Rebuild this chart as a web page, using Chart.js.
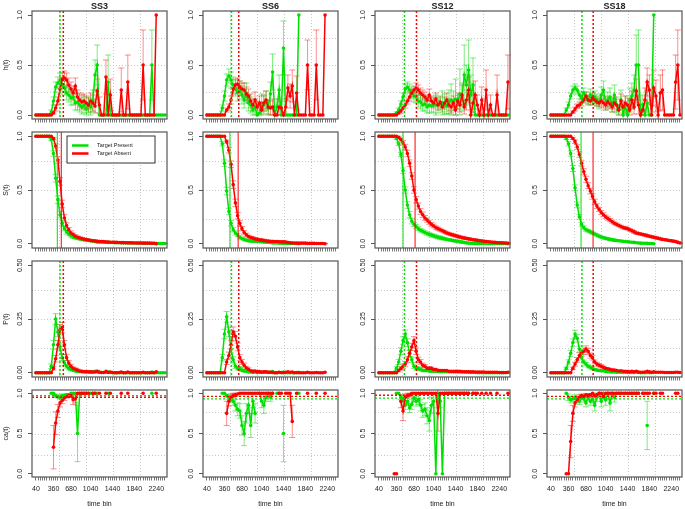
<!DOCTYPE html>
<html>
<head>
<meta charset="utf-8">
<script src="https://cdn.jsdelivr.net/npm/chart.js@4.4.0/dist/chart.umd.min.js"></script>
<style>
  body { margin: 0; background: #fff; }
  #wrap { position: relative; width: 685px; height: 509px; overflow: hidden; }
  #wrap canvas { position: absolute; }
</style>
</head>
<body>
<div id="wrap"></div>
<script>
// time bins (ms) and the labels R managed to print under them
const TIME = [
  40, 80, 120, 160, 200, 240, 280, 320, 360, 400,
  440, 480, 520, 560, 600, 640, 680, 720, 760, 800,
  840, 880, 920, 960, 1000, 1040, 1080, 1120, 1160, 1200,
  1240, 1280, 1320, 1360, 1400, 1440, 1480, 1520, 1560, 1600,
  1640, 1680, 1720, 1760, 1800, 1840, 1880, 1920, 1960, 2000,
  2040, 2080, 2120, 2160, 2200, 2240, 2280, 2320, 2360, 2400
];
const X_LABELS = [40, 360, 680, 1040, 1440, 1840, 2240];
const SET_SIZES = ['SS3', 'SS6', 'SS12', 'SS18'];
const ROW_LABELS = ['h(t)', 'S(t)', 'P(t)', 'ca(t)'];
const Y_TICKS = [[0, 0.5, 1], [0, 0.5, 1], [0, 0.25, 0.5], [0, 0.5, 1]];
const Y_TICK_TEXT = [['0.0', '0.5', '1.0'], ['0.0', '0.5', '1.0'], ['0.00', '0.25', '0.50'], ['0.0', '0.5', '1.0']];

// reference lines per set size
const DOT_TP = [479, 487, 506, 606];
const DOT_TA = [540, 621, 726, 812];
const SOLID_TP = [430, 460, 480, 590];
const SOLID_TA = [503, 610, 700, 810];
const CA_REF_TP = [0.97, 0.93, 0.94, 0.93];
const CA_REF_TA = [0.95, 0.96, 0.975, 0.96];

// ---------- SS3 ----------
const H_TP_SS3 = [
  0, 0, 0, 0, 0, 0, 0, 0.03, 0.14, 0.28,
  0.32, 0.35, 0.3, 0.27, 0.22, 0.2, 0.17, 0.18, 0.12, 0.13,
  0.1, 0.08, 0.1, 0.06, 0.1, 0.08, 0.14, 0.4, 0.5, 0,
  0, 0, 0, 0.33, 0, 0, 0, 0, 0, 0,
  0, 0, 0, 0, 0, 0, 0, 0, 0, 0,
  0, 0, 0, 0.5, 0, 0, 0, 0, 0, 0
];
const H_TP_ERR_SS3 = [
  0, 0, 0, 0, 0, 0, 0, 0.02, 0.04, 0.05,
  0.06, 0.07, 0.07, 0.07, 0.07, 0.07, 0.07, 0.08, 0.07, 0.08,
  0.07, 0.07, 0.08, 0.06, 0.08, 0.08, 0.11, 0.15, 0.2, 0,
  0, 0, 0, 0.27, 0, 0, 0, 0, 0, 0,
  0, 0, 0, 0, 0, 0, 0, 0, 0, 0,
  0, 0, 0, 0.35, 0, 0, 0, 0, 0, 0
];
const H_TA_SS3 = [
  0, 0, 0, 0, 0, 0, 0, 0, 0.02, 0.07,
  0.14, 0.26, 0.36, 0.37, 0.35, 0.3, 0.26, 0.22, 0.29, 0.18,
  0.15, 0.13, 0.14, 0.12, 0.1, 0.14, 0.12, 0.09, 0.24, 0.1,
  0, 0, 0.38, 0, 0.2, 0, 0, 0, 0, 0.25,
  0, 0, 0.33, 0, 0, 0, 0, 0, 0, 0.5,
  0, 0, 0, 0, 0, 1, null, null, null, null
];
const H_TA_ERR_SS3 = [
  0, 0, 0, 0, 0, 0, 0, 0, 0.01, 0.03,
  0.04, 0.05, 0.06, 0.07, 0.07, 0.07, 0.07, 0.07, 0.08, 0.07,
  0.07, 0.07, 0.07, 0.07, 0.07, 0.08, 0.08, 0.07, 0.12, 0.08,
  0, 0, 0.17, 0, 0.16, 0, 0, 0, 0, 0.22,
  0, 0, 0.27, 0, 0, 0, 0, 0, 0, 0.35,
  0, 0, 0, 0, 0, 0, 0, 0, 0, 0
];
const S_TP_SS3 = [
  1, 1, 1, 1, 1, 1, 1, 0.97, 0.84, 0.61,
  0.41, 0.27, 0.19, 0.14, 0.11, 0.09, 0.075, 0.064, 0.056, 0.05,
  0.045, 0.041, 0.037, 0.034, 0.031, 0.029, 0.026, 0.022, 0.017, 0.016,
  0.015, 0.014, 0.013, 0.012, 0.011, 0.011, 0.01, 0.01, 0.009, 0.009,
  0.008, 0.008, 0.007, 0.007, 0.006, 0.006, 0.006, 0.005, 0.005, 0.005,
  0.004, 0.004, 0.004, 0.003, 0.003, 0.003, 0.002, 0.002, 0.002, 0.002
];
const S_TP_ERR_SS3 = [
  0, 0, 0, 0, 0, 0, 0, 0.01, 0.025, 0.035,
  0.035, 0.03, 0.025, 0.02, 0.02, 0.015, 0.015, 0.015, 0.012, 0.012,
  0.01, 0.01, 0.01, 0.01, 0.01, 0.01, 0.01, 0.01, 0.01, 0.01,
  0.005, 0.005, 0.005, 0.005, 0.005, 0.005, 0.005, 0.005, 0.005, 0.005,
  0.005, 0.005, 0.005, 0.005, 0.005, 0.005, 0.005, 0.005, 0.005, 0.005,
  0.004, 0.004, 0.004, 0.003, 0.003, 0.003, 0.002, 0.002, 0.002, 0.002
];
const S_TA_SS3 = [
  1, 1, 1, 1, 1, 1, 1, 1, 0.98, 0.91,
  0.78, 0.58, 0.37, 0.24, 0.17, 0.13, 0.1, 0.085, 0.07, 0.06,
  0.053, 0.047, 0.042, 0.038, 0.034, 0.03, 0.027, 0.025, 0.022, 0.02,
  0.02, 0.019, 0.016, 0.015, 0.013, 0.013, 0.012, 0.012, 0.011, 0.01,
  0.01, 0.009, 0.008, 0.008, 0.008, 0.007, 0.007, 0.007, 0.006, 0.005,
  0.005, 0.005, 0.005, 0.004, 0.004, 0, null, null, null, null
];
const S_TA_ERR_SS3 = [
  0, 0, 0, 0, 0, 0, 0, 0, 0.01, 0.02,
  0.03, 0.035, 0.035, 0.03, 0.025, 0.02, 0.02, 0.015, 0.015, 0.012,
  0.012, 0.01, 0.01, 0.01, 0.01, 0.01, 0.01, 0.01, 0.01, 0.01,
  0.008, 0.008, 0.008, 0.008, 0.008, 0.008, 0.008, 0.008, 0.008, 0.008,
  0.005, 0.005, 0.005, 0.005, 0.005, 0.005, 0.005, 0.005, 0.005, 0.005,
  0.004, 0.004, 0.004, 0.003, 0.003, 0, 0, 0, 0, 0
];
const P_TP_SS3 = [
  0, 0, 0, 0, 0, 0, 0, 0.03, 0.13, 0.25,
  0.19, 0.12, 0.07, 0.045, 0.03, 0.02, 0.015, 0.012, 0.008, 0.006,
  0.005, 0.004, 0.004, 0.003, 0.003, 0.002, 0.003, 0.007, 0.008, 0.002,
  0.001, 0.001, 0.001, 0.004, 0.001, 0, 0, 0, 0, 0,
  0, 0, 0, 0, 0, 0, 0, 0, 0, 0,
  0, 0, 0, 0.003, 0, 0, 0, 0, 0, 0
];
const P_TP_ERR_SS3 = [
  0, 0, 0, 0, 0, 0, 0, 0.01, 0.02, 0.025,
  0.022, 0.018, 0.014, 0.011, 0.009, 0.007, 0.006, 0.005, 0.004, 0.004,
  0.003, 0.003, 0.003, 0.003, 0.003, 0.003, 0.003, 0.003, 0.003, 0.003,
  0, 0, 0, 0, 0, 0, 0, 0, 0, 0,
  0, 0, 0, 0, 0, 0, 0, 0, 0, 0,
  0, 0, 0, 0, 0, 0, 0, 0, 0, 0
];
const P_TA_SS3 = [
  0, 0, 0, 0, 0, 0, 0, 0, 0.02, 0.065,
  0.13, 0.2, 0.21, 0.13, 0.07, 0.045, 0.03, 0.02, 0.016, 0.012,
  0.008, 0.006, 0.005, 0.005, 0.004, 0.004, 0.003, 0.003, 0.005, 0.002,
  0.001, 0.001, 0.006, 0.001, 0.003, 0.001, 0, 0, 0.001, 0.003,
  0, 0, 0.003, 0, 0, 0, 0, 0, 0, 0.002,
  0, 0, 0, 0, 0, 0.004, null, null, null, null
];
const P_TA_ERR_SS3 = [
  0, 0, 0, 0, 0, 0, 0, 0, 0.008, 0.015,
  0.02, 0.024, 0.024, 0.02, 0.014, 0.011, 0.009, 0.007, 0.006, 0.005,
  0.004, 0.004, 0.004, 0.004, 0.004, 0.004, 0.004, 0.004, 0.004, 0.004,
  0, 0, 0, 0, 0, 0, 0, 0, 0, 0,
  0, 0, 0, 0, 0, 0, 0, 0, 0, 0,
  0, 0, 0, 0, 0, 0, 0, 0, 0, 0
];
const CA_TP_SS3 = [
  null, null, null, null, null, null, null, 1, 1, 0.97,
  0.96, 0.95, 0.97, 0.97, 0.98, 0.98, 1, 1, 1, 0.5,
  1, 1, 1, 1, 1, 1, 1, 1, 1, null,
  null, null, null, 1, null, null, null, null, null, null,
  null, null, null, null, null, null, null, null, null, null,
  null, null, null, 1, null, null, null, null, null, null
];
const CA_TP_ERR_SS3 = [
  0, 0, 0, 0, 0, 0, 0, 0, 0, 0.02,
  0.02, 0.02, 0.02, 0.015, 0.015, 0.015, 0, 0, 0, 0.35,
  0, 0, 0, 0, 0, 0, 0, 0, 0, 0,
  0, 0, 0, 0, 0, 0, 0, 0, 0, 0,
  0, 0, 0, 0, 0, 0, 0, 0, 0, 0,
  0, 0, 0, 0, 0, 0, 0, 0, 0, 0
];
const CA_TA_SS3 = [
  null, null, null, null, null, null, null, null, 0.33, 0.63,
  0.78, 0.88, 0.91, 0.94, 0.96, 0.97, 0.97, 0.92, 0.93, 1,
  1, 1, 1, 1, 1, null, 1, 1, null, 1,
  null, null, 1, null, 1, null, null, null, null, 1,
  null, null, 1, null, null, null, null, null, null, 1,
  null, null, null, null, null, 1, null, null, null, null
];
const CA_TA_ERR_SS3 = [
  0, 0, 0, 0, 0, 0, 0, 0, 0.27, 0.14,
  0.08, 0.05, 0.04, 0.03, 0.02, 0.02, 0.02, 0.06, 0.05, 0,
  0, 0, 0, 0, 0, 0, 0, 0, 0, 0,
  0, 0, 0, 0, 0, 0, 0, 0, 0, 0,
  0, 0, 0, 0, 0, 0, 0, 0, 0, 0,
  0, 0, 0, 0, 0, 0, 0, 0, 0, 0
];

// ---------- SS6 ----------
const H_TP_SS6 = [
  0, 0, 0, 0, 0, 0, 0, 0.07, 0.19, 0.35,
  0.39, 0.35, 0.3, 0.27, 0.22, 0.25, 0.2, 0.15, 0.22, 0.12,
  0.1, 0.05, 0.08, 0, 0.02, 0.12, 0.1, 0.14, 0.07, 0.21,
  0.43, 0, 0.08, 0.25, 0, 0.67, 0, 0, 0, 0,
  0, 0, 1, null, null, null, null, null, null, null,
  null, null, null, null, null, null, null, null, null, null
];
const H_TP_ERR_SS6 = [
  0, 0, 0, 0, 0, 0, 0, 0.03, 0.05, 0.06,
  0.07, 0.08, 0.08, 0.08, 0.08, 0.09, 0.09, 0.08, 0.1, 0.08,
  0.08, 0.06, 0.08, 0, 0.04, 0.09, 0.09, 0.1, 0.08, 0.12,
  0.18, 0, 0.08, 0.15, 0, 0.27, 0, 0, 0, 0,
  0, 0, 0, 0, 0, 0, 0, 0, 0, 0,
  0, 0, 0, 0, 0, 0, 0, 0, 0, 0
];
const H_TA_SS6 = [
  0, 0, 0, 0, 0, 0, 0, 0, 0, 0.05,
  0.08, 0.15, 0.26, 0.3, 0.31, 0.28, 0.26, 0.25, 0.21, 0.19,
  0.14, 0.1, 0.15, 0.08, 0.12, 0.05, 0.12, 0.15, 0.08, 0.07,
  0.08, 0, 0, 0.08, 0.07, 0, 0.08, 0.27, 0.19, 0.29,
  0, 0.22, 0, 0, 0, 0, 0.5, 0, 0, 0,
  0.5, 0, 0, 0, 1, null, null, null, null, null
];
const H_TA_ERR_SS6 = [
  0, 0, 0, 0, 0, 0, 0, 0, 0, 0.02,
  0.03, 0.04, 0.05, 0.06, 0.06, 0.06, 0.06, 0.07, 0.07, 0.07,
  0.07, 0.06, 0.08, 0.06, 0.07, 0.05, 0.08, 0.09, 0.07, 0.07,
  0.08, 0, 0, 0.08, 0.07, 0, 0.08, 0.13, 0.12, 0.16,
  0, 0.17, 0, 0, 0, 0, 0.25, 0, 0, 0,
  0.35, 0, 0, 0, 0, 0, 0, 0, 0, 0
];
const S_TP_SS6 = [
  1, 1, 1, 1, 1, 1, 1, 0.93, 0.75, 0.49,
  0.3, 0.19, 0.13, 0.1, 0.08, 0.06, 0.048, 0.04, 0.032, 0.028,
  0.025, 0.024, 0.022, 0.022, 0.021, 0.019, 0.017, 0.015, 0.014, 0.011,
  0.006, 0.006, 0.006, 0.005, 0.005, 0.002, 0.002, 0.002, 0.002, 0.002,
  0.002, 0.002, 0, null, null, null, null, null, null, null,
  null, null, null, null, null, null, null, null, null, null
];
const S_TP_ERR_SS6 = [
  0, 0, 0, 0, 0, 0, 0, 0.02, 0.03, 0.035,
  0.03, 0.025, 0.02, 0.02, 0.015, 0.015, 0.012, 0.012, 0.01, 0.01,
  0.01, 0.01, 0.01, 0.01, 0.01, 0.01, 0.01, 0.01, 0.01, 0.01,
  0.005, 0.005, 0.005, 0.005, 0.005, 0.005, 0.005, 0.005, 0.005, 0.005,
  0.005, 0.005, 0.005, 0, 0, 0, 0, 0, 0, 0,
  0, 0, 0, 0, 0, 0, 0, 0, 0, 0
];
const S_TA_SS6 = [
  1, 1, 1, 1, 1, 1, 1, 1, 1, 0.95,
  0.87, 0.74, 0.55, 0.38, 0.26, 0.19, 0.14, 0.105, 0.083, 0.067,
  0.058, 0.052, 0.044, 0.04, 0.035, 0.033, 0.029, 0.025, 0.023, 0.021,
  0.02, 0.02, 0.02, 0.018, 0.017, 0.017, 0.015, 0.011, 0.009, 0.006,
  0.006, 0.005, 0.005, 0.005, 0.005, 0.005, 0.003, 0.003, 0.003, 0.003,
  0.002, 0.002, 0.002, 0.002, 0, null, null, null, null, null
];
const S_TA_ERR_SS6 = [
  0, 0, 0, 0, 0, 0, 0, 0, 0, 0.015,
  0.025, 0.03, 0.035, 0.035, 0.03, 0.025, 0.02, 0.017, 0.015, 0.013,
  0.012, 0.012, 0.012, 0.012, 0.012, 0.012, 0.012, 0.012, 0.012, 0.012,
  0.008, 0.008, 0.008, 0.008, 0.008, 0.008, 0.008, 0.008, 0.008, 0.008,
  0.005, 0.005, 0.005, 0.005, 0.005, 0.005, 0.005, 0.005, 0.005, 0.005,
  0.003, 0.003, 0.003, 0.003, 0.003, 0, 0, 0, 0, 0
];
const P_TP_SS6 = [
  0, 0, 0, 0, 0, 0, 0, 0.07, 0.18, 0.26,
  0.19, 0.11, 0.06, 0.03, 0.02, 0.02, 0.012, 0.008, 0.008, 0.004,
  0.003, 0.001, 0.002, 0, 0.001, 0.002, 0.002, 0.002, 0.001, 0.003,
  0.005, 0, 0, 0.001, 0, 0.003, 0, 0, 0, 0,
  0, 0, 0.002, null, null, null, null, null, null, null,
  null, null, null, null, null, null, null, null, null, null
];
const P_TP_ERR_SS6 = [
  0, 0, 0, 0, 0, 0, 0, 0.015, 0.022, 0.025,
  0.022, 0.018, 0.014, 0.01, 0.008, 0.008, 0.006, 0.005, 0.005, 0.004,
  0.003, 0.003, 0.003, 0.003, 0.003, 0.003, 0.003, 0.003, 0.003, 0.003,
  0, 0, 0, 0, 0, 0, 0, 0, 0, 0,
  0, 0, 0, 0, 0, 0, 0, 0, 0, 0,
  0, 0, 0, 0, 0, 0, 0, 0, 0, 0
];
const P_TA_SS6 = [
  0, 0, 0, 0, 0, 0, 0, 0, 0, 0.05,
  0.08, 0.13, 0.19, 0.17, 0.12, 0.07, 0.05, 0.035, 0.022, 0.016,
  0.009, 0.006, 0.008, 0.004, 0.005, 0.002, 0.004, 0.004, 0.002, 0.002,
  0.001, 0, 0, 0.002, 0.001, 0, 0.002, 0.004, 0.002, 0.003,
  0, 0.001, 0, 0, 0, 0, 0.002, 0, 0, 0,
  0.001, 0, 0, 0, 0.002, null, null, null, null, null
];
const P_TA_ERR_SS6 = [
  0, 0, 0, 0, 0, 0, 0, 0, 0, 0.012,
  0.016, 0.02, 0.023, 0.022, 0.018, 0.014, 0.012, 0.01, 0.008, 0.007,
  0.004, 0.004, 0.004, 0.004, 0.004, 0.004, 0.004, 0.004, 0.004, 0.004,
  0, 0, 0, 0, 0, 0, 0, 0, 0, 0,
  0, 0, 0, 0, 0, 0, 0, 0, 0, 0,
  0, 0, 0, 0, 0, 0, 0, 0, 0, 0
];
const CA_TP_SS6 = [
  null, null, null, null, null, null, null, 1, 1, 0.97,
  0.95, 0.93, 0.9, 0.85, 0.8, 0.78, 0.6, 0.5, 0.75, 0.85,
  0.6, 0.9, 0.75, null, 1, 0.9, 0.85, 0.95, 1, 0.95,
  1, null, 1, 1, null, 0.5, null, null, null, null,
  null, null, 1, null, null, null, null, null, null, null,
  null, null, null, null, null, null, null, null, null, null
];
const CA_TP_ERR_SS6 = [
  0, 0, 0, 0, 0, 0, 0, 0, 0, 0.02,
  0.03, 0.04, 0.05, 0.07, 0.08, 0.09, 0.12, 0.15, 0.12, 0.1,
  0.15, 0.08, 0.12, 0, 0, 0.08, 0.1, 0.05, 0, 0.05,
  0, 0, 0, 0, 0, 0.35, 0, 0, 0, 0,
  0, 0, 0, 0, 0, 0, 0, 0, 0, 0,
  0, 0, 0, 0, 0, 0, 0, 0, 0, 0
];
const CA_TA_SS6 = [
  null, null, null, null, null, null, null, null, null, 0.75,
  0.9, 0.95, 0.97, 0.98, 0.99, 1, 1, 1, 1, 1,
  1, 1, 1, 1, 1, 1, 1, 1, 1, 1,
  1, null, null, 1, 1, null, 1, 1, 1, 0.65,
  null, 1, null, null, null, null, 1, null, null, null,
  1, null, null, null, 1, null, null, null, null, null
];
const CA_TA_ERR_SS6 = [
  0, 0, 0, 0, 0, 0, 0, 0, 0, 0.15,
  0.06, 0.04, 0.03, 0.02, 0.01, 0, 0, 0, 0, 0,
  0, 0, 0, 0, 0, 0, 0, 0, 0, 0,
  0, 0, 0, 0, 0, 0, 0, 0, 0, 0.2,
  0, 0, 0, 0, 0, 0, 0, 0, 0, 0,
  0, 0, 0, 0, 0, 0, 0, 0, 0, 0
];

// ---------- SS12 ----------
const H_TP_SS12 = [
  0, 0, 0, 0, 0, 0, 0, 0, 0.02, 0.05,
  0.11, 0.18, 0.26, 0.28, 0.25, 0.22, 0.19, 0.18, 0.14, 0.13,
  0.1, 0.11, 0.08, 0.1, 0.09, 0.1, 0.1, 0.1, 0.11, 0.12,
  0.11, 0.09, 0.13, 0.15, 0.14, 0.16, 0.13, 0.21, 0.18, 0.4,
  0.3, 0.45, 0.2, 0.3, 0, 0, 0, 0, 0, 0,
  0, 0, 0, 0, 0, 0, 0, 0, 0, 0
];
const H_TP_ERR_SS12 = [
  0, 0, 0, 0, 0, 0, 0, 0, 0.01, 0.02,
  0.03, 0.04, 0.05, 0.05, 0.06, 0.06, 0.06, 0.06, 0.06, 0.07,
  0.06, 0.07, 0.06, 0.08, 0.06, 0.08, 0.1, 0.08, 0.06, 0.12,
  0.1, 0.08, 0.12, 0.16, 0.1, 0.2, 0.07, 0.25, 0.14, 0.3,
  0.2, 0.3, 0.2, 0.27, 0, 0, 0, 0, 0, 0,
  0, 0, 0, 0, 0, 0, 0, 0, 0, 0
];
const H_TA_SS12 = [
  0, 0, 0, 0, 0, 0, 0, 0, 0, 0.02,
  0.04, 0.07, 0.1, 0.14, 0.18, 0.22, 0.25, 0.27, 0.25, 0.22,
  0.2, 0.18, 0.15, 0.2, 0.14, 0.12, 0.16, 0.1, 0.13, 0.08,
  0.12, 0.15, 0.1, 0.08, 0.12, 0.05, 0.14, 0.1, 0.2, 0.08,
  0.15, 0.25, 0, 0.12, 0.2, 0.1, 0, 0.15, 0, 0.25,
  0, 0.1, 0, 0, 0.2, 0, 0, 0, 0, 0.33
];
const H_TA_ERR_SS12 = [
  0, 0, 0, 0, 0, 0, 0, 0, 0, 0.01,
  0.02, 0.02, 0.03, 0.03, 0.04, 0.04, 0.04, 0.05, 0.05, 0.05,
  0.05, 0.05, 0.05, 0.06, 0.05, 0.05, 0.06, 0.05, 0.06, 0.05,
  0.06, 0.07, 0.06, 0.06, 0.07, 0.05, 0.08, 0.07, 0.1, 0.07,
  0.1, 0.13, 0, 0.1, 0.14, 0.1, 0, 0.13, 0, 0.2,
  0, 0.1, 0, 0, 0.2, 0, 0, 0, 0, 0.27
];
const S_TP_SS12 = [
  1, 1, 1, 1, 1, 1, 1, 1, 0.98, 0.93,
  0.83, 0.68, 0.5, 0.36, 0.27, 0.21, 0.18, 0.16, 0.14, 0.125,
  0.115, 0.105, 0.095, 0.087, 0.08, 0.073, 0.066, 0.06, 0.055, 0.05,
  0.045, 0.041, 0.037, 0.033, 0.029, 0.025, 0.022, 0.018, 0.015, 0.011,
  0.008, 0.005, 0.004, 0.002, 0.001, 0.001, 0.001, 0.001, 0.001, 0.001,
  0.001, 0.001, 0.001, 0.001, 0.001, 0.001, 0.001, 0.001, 0.001, 0
];
const S_TP_ERR_SS12 = [
  0, 0, 0, 0, 0, 0, 0, 0, 0.01, 0.015,
  0.02, 0.025, 0.03, 0.03, 0.03, 0.025, 0.02, 0.02, 0.018, 0.016,
  0.015, 0.015, 0.015, 0.015, 0.015, 0.015, 0.015, 0.015, 0.015, 0.015,
  0.01, 0.01, 0.01, 0.01, 0.01, 0.01, 0.01, 0.01, 0.01, 0.01,
  0.005, 0.005, 0.005, 0.005, 0.005, 0.005, 0.005, 0.005, 0.005, 0.005,
  0.005, 0.005, 0.005, 0.005, 0.005, 0.005, 0.005, 0.005, 0.005, 0.005
];
const S_TA_SS12 = [
  1, 1, 1, 1, 1, 1, 1, 1, 1, 0.99,
  0.97, 0.94, 0.9, 0.84, 0.75, 0.63, 0.5, 0.41, 0.35, 0.3,
  0.27, 0.24, 0.22, 0.2, 0.18, 0.165, 0.15, 0.14, 0.13, 0.12,
  0.11, 0.1, 0.093, 0.086, 0.08, 0.074, 0.068, 0.062, 0.057, 0.053,
  0.049, 0.045, 0.041, 0.037, 0.034, 0.031, 0.028, 0.025, 0.022, 0.02,
  0.018, 0.016, 0.014, 0.012, 0.01, 0.009, 0.008, 0.007, 0.006, 0.004
];
const S_TA_ERR_SS12 = [
  0, 0, 0, 0, 0, 0, 0, 0, 0, 0.01,
  0.015, 0.02, 0.025, 0.03, 0.03, 0.03, 0.03, 0.03, 0.028, 0.026,
  0.024, 0.022, 0.02, 0.019, 0.018, 0.017, 0.016, 0.015, 0.014, 0.013,
  0.012, 0.012, 0.012, 0.012, 0.012, 0.012, 0.012, 0.012, 0.012, 0.012,
  0.01, 0.01, 0.01, 0.01, 0.01, 0.01, 0.01, 0.01, 0.01, 0.01,
  0.008, 0.008, 0.008, 0.008, 0.008, 0.008, 0.008, 0.008, 0.008, 0.008
];
const P_TP_SS12 = [
  0, 0, 0, 0, 0, 0, 0, 0, 0.02, 0.05,
  0.1, 0.15, 0.18, 0.14, 0.09, 0.06, 0.03, 0.02, 0.02, 0.015,
  0.01, 0.01, 0.01, 0.008, 0.007, 0.007, 0.007, 0.006, 0.005, 0.005,
  0.005, 0.004, 0.004, 0.004, 0.004, 0.004, 0.003, 0.004, 0.003, 0.004,
  0.003, 0.003, 0.001, 0.002, 0.001, 0, 0, 0, 0, 0,
  0, 0, 0, 0, 0, 0, 0, 0, 0, 0.001
];
const P_TP_ERR_SS12 = [
  0, 0, 0, 0, 0, 0, 0, 0, 0.008, 0.012,
  0.016, 0.018, 0.019, 0.017, 0.014, 0.012, 0.01, 0.008, 0.007, 0.006,
  0.005, 0.005, 0.004, 0.004, 0.004, 0.004, 0.004, 0.004, 0.004, 0.004,
  0, 0, 0, 0, 0, 0, 0, 0, 0, 0,
  0, 0, 0, 0, 0, 0, 0, 0, 0, 0,
  0, 0, 0, 0, 0, 0, 0, 0, 0, 0
];
const P_TA_SS12 = [
  0, 0, 0, 0, 0, 0, 0, 0, 0, 0.01,
  0.02, 0.03, 0.04, 0.06, 0.09, 0.12, 0.15, 0.1, 0.06, 0.05,
  0.035, 0.03, 0.02, 0.02, 0.02, 0.015, 0.015, 0.01, 0.01, 0.01,
  0.01, 0.01, 0.007, 0.007, 0.006, 0.006, 0.006, 0.006, 0.005, 0.004,
  0.004, 0.004, 0.004, 0.004, 0.003, 0.003, 0.003, 0.003, 0.003, 0.002,
  0.002, 0.002, 0.002, 0.002, 0.002, 0.001, 0.001, 0.001, 0.001, 0.002
];
const P_TA_ERR_SS12 = [
  0, 0, 0, 0, 0, 0, 0, 0, 0, 0.006,
  0.008, 0.011, 0.012, 0.014, 0.016, 0.017, 0.018, 0.015, 0.012, 0.011,
  0.01, 0.008, 0.007, 0.007, 0.006, 0.005, 0.005, 0.004, 0.004, 0.004,
  0, 0, 0, 0, 0, 0, 0, 0, 0, 0,
  0, 0, 0, 0, 0, 0, 0, 0, 0, 0,
  0, 0, 0, 0, 0, 0, 0, 0, 0, 0
];
const CA_TP_SS12 = [
  null, null, null, null, null, null, null, null, 1, 1,
  0.95, 0.93, 0.85, 0.9, 0.82, 0.86, 0.94, 0.9, 0.92, 0.85,
  0.78, 0.8, 0.72, 0.66, 0.85, 0.9, 0, 1, 0.9, 0,
  1, 1, 1, 1, 1, 1, 1, 1, 1, 1,
  1, 1, null, 1, null, null, null, null, null, null,
  null, null, null, null, null, null, null, null, null, null
];
const CA_TP_ERR_SS12 = [
  0, 0, 0, 0, 0, 0, 0, 0, 0, 0,
  0.03, 0.04, 0.05, 0.05, 0.06, 0.06, 0.05, 0.06, 0.06, 0.07,
  0.08, 0.08, 0.1, 0.13, 0.1, 0.08, 0, 0, 0.08, 0,
  0, 0, 0, 0, 0, 0, 0, 0, 0, 0,
  0, 0, 0, 0, 0, 0, 0, 0, 0, 0,
  0, 0, 0, 0, 0, 0, 0, 0, 0, 0
];
const CA_TA_SS12 = [
  null, null, null, null, null, null, null, 0, 0, null,
  0.9, 0.78, 0.95, 0.97, 0.98, 1, 1, 1, 1, 1,
  1, 1, 1, 1, 1, 1, 1, 0.75, 1, 1,
  1, 1, 1, 1, 1, 1, 1, 1, 1, 1,
  1, 1, null, 1, 1, 1, null, 1, null, 1,
  null, 1, null, null, 1, null, null, null, null, 1
];
const CA_TA_ERR_SS12 = [
  0, 0, 0, 0, 0, 0, 0, 0, 0, 0,
  0.08, 0.12, 0.04, 0.03, 0.02, 0, 0, 0, 0, 0,
  0, 0, 0, 0, 0, 0, 0, 0.22, 0, 0,
  0, 0, 0, 0, 0, 0, 0, 0, 0, 0,
  0, 0, 0, 0, 0, 0, 0, 0, 0, 0,
  0, 0, 0, 0, 0, 0, 0, 0, 0, 0
];

// ---------- SS18 ----------
const H_TP_SS18 = [
  0, 0, 0, 0, 0, 0, 0, 0.05, 0.1, 0.19,
  0.25, 0.27, 0.25, 0.2, 0.17, 0.22, 0.18, 0.15, 0.2, 0.16,
  0.18, 0.15, 0.12, 0.2, 0.25, 0.12, 0.15, 0.18, 0.1, 0.2,
  0.1, 0.05, 0.15, 0, 0.1, 0, 0.15, 0.19, 0.25, 0.5,
  0.5, 0, 0.1, 0, 0.12, 0, 0, 1, null, null,
  null, null, null, null, null, null, null, null, null, null
];
const H_TP_ERR_SS18 = [
  0, 0, 0, 0, 0, 0, 0, 0.02, 0.03, 0.03,
  0.04, 0.04, 0.04, 0.04, 0.04, 0.05, 0.05, 0.05, 0.06, 0.06,
  0.06, 0.06, 0.06, 0.08, 0.09, 0.07, 0.08, 0.09, 0.07, 0.1,
  0.08, 0.05, 0.1, 0, 0.09, 0, 0.12, 0.13, 0.15, 0.3,
  0.35, 0, 0.1, 0, 0.12, 0, 0, 0, 0, 0,
  0, 0, 0, 0, 0, 0, 0, 0, 0, 0
];
const H_TA_SS18 = [
  0, 0, 0, 0, 0, 0, 0, 0, 0, 0,
  0.03, 0.06, 0.09, 0.1, 0.12, 0.15, 0.19, 0.15, 0.14, 0.17,
  0.15, 0.13, 0.12, 0.14, 0.12, 0.1, 0.13, 0.11, 0.08, 0.12,
  0.1, 0.05, 0.14, 0.08, 0.12, 0.1, 0.05, 0.15, 0.08, 0.24,
  0.1, 0, 0.05, 0.15, 0.33, 0.25, 0, 0.27, 0.19, 0,
  0.22, 0.25, 0, 0, 0, 0, 0, 0.33, 0.5, 0
];
const H_TA_ERR_SS18 = [
  0, 0, 0, 0, 0, 0, 0, 0, 0, 0,
  0.01, 0.02, 0.02, 0.03, 0.03, 0.03, 0.04, 0.04, 0.04, 0.04,
  0.04, 0.04, 0.04, 0.05, 0.05, 0.05, 0.05, 0.05, 0.05, 0.06,
  0.06, 0.05, 0.07, 0.06, 0.07, 0.07, 0.05, 0.09, 0.07, 0.12,
  0.09, 0, 0.06, 0.12, 0.14, 0.15, 0, 0.18, 0.16, 0,
  0.18, 0.2, 0, 0, 0, 0, 0, 0.27, 0.35, 0
];
const S_TP_SS18 = [
  1, 1, 1, 1, 1, 1, 1, 0.98, 0.93, 0.84,
  0.7, 0.52, 0.36, 0.25, 0.18, 0.15, 0.13, 0.12, 0.11, 0.1,
  0.09, 0.08, 0.07, 0.062, 0.055, 0.05, 0.045, 0.04, 0.036, 0.033,
  0.03, 0.028, 0.025, 0.022, 0.02, 0.018, 0.016, 0.014, 0.012, 0.009,
  0.006, 0.005, 0.004, 0.004, 0.003, 0.002, 0.002, 0, null, null,
  null, null, null, null, null, null, null, null, null, null
];
const S_TP_ERR_SS18 = [
  0, 0, 0, 0, 0, 0, 0, 0.01, 0.02, 0.025,
  0.028, 0.028, 0.026, 0.022, 0.018, 0.016, 0.014, 0.013, 0.012, 0.011,
  0.01, 0.01, 0.01, 0.01, 0.01, 0.01, 0.01, 0.01, 0.01, 0.01,
  0.005, 0.005, 0.005, 0.005, 0.005, 0.005, 0.005, 0.005, 0.005, 0.005,
  0.003, 0.003, 0.003, 0.003, 0.003, 0.003, 0.003, 0, 0, 0,
  0, 0, 0, 0, 0, 0, 0, 0, 0, 0
];
const S_TA_SS18 = [
  1, 1, 1, 1, 1, 1, 1, 1, 1, 1,
  0.98, 0.95, 0.9, 0.83, 0.75, 0.67, 0.6, 0.54, 0.49, 0.44,
  0.39, 0.35, 0.32, 0.29, 0.27, 0.25, 0.235, 0.22, 0.205, 0.19,
  0.18, 0.17, 0.16, 0.15, 0.145, 0.14, 0.13, 0.12, 0.11, 0.1,
  0.095, 0.09, 0.085, 0.08, 0.075, 0.07, 0.065, 0.06, 0.055, 0.05,
  0.045, 0.04, 0.037, 0.034, 0.03, 0.027, 0.024, 0.02, 0.012, 0.006
];
const S_TA_ERR_SS18 = [
  0, 0, 0, 0, 0, 0, 0, 0, 0, 0,
  0.01, 0.017, 0.022, 0.025, 0.027, 0.028, 0.028, 0.027, 0.026, 0.025,
  0.024, 0.022, 0.02, 0.019, 0.018, 0.017, 0.016, 0.015, 0.014, 0.013,
  0.012, 0.012, 0.012, 0.012, 0.012, 0.012, 0.012, 0.012, 0.012, 0.012,
  0.01, 0.01, 0.01, 0.01, 0.01, 0.01, 0.01, 0.01, 0.01, 0.01,
  0.008, 0.008, 0.008, 0.008, 0.008, 0.008, 0.008, 0.008, 0.006, 0.004
];
const P_TP_SS18 = [
  0, 0, 0, 0, 0, 0, 0, 0.02, 0.05, 0.09,
  0.14, 0.18, 0.16, 0.11, 0.07, 0.05, 0.04, 0.03, 0.025, 0.02,
  0.015, 0.012, 0.01, 0.009, 0.009, 0.006, 0.005, 0.004, 0.003, 0.003,
  0.002, 0.002, 0.002, 0.001, 0.002, 0.001, 0.001, 0.001, 0.001, 0.002,
  0.0015, 0, 0.0005, 0, 0.0005, 0, 0, 0.001, null, null,
  null, null, null, null, null, null, null, null, null, null
];
const P_TP_ERR_SS18 = [
  0, 0, 0, 0, 0, 0, 0, 0.006, 0.01, 0.014,
  0.017, 0.018, 0.017, 0.014, 0.011, 0.009, 0.008, 0.007, 0.007, 0.006,
  0.005, 0.004, 0.004, 0.004, 0.004, 0.003, 0.003, 0.003, 0.003, 0.003,
  0, 0, 0, 0, 0, 0, 0, 0, 0, 0,
  0, 0, 0, 0, 0, 0, 0, 0, 0, 0,
  0, 0, 0, 0, 0, 0, 0, 0, 0, 0
];
const P_TA_SS18 = [
  0, 0, 0, 0, 0, 0, 0, 0, 0, 0,
  0.02, 0.04, 0.06, 0.08, 0.09, 0.1, 0.11, 0.1, 0.08, 0.07,
  0.05, 0.04, 0.035, 0.03, 0.025, 0.02, 0.018, 0.015, 0.012, 0.012,
  0.01, 0.008, 0.009, 0.007, 0.006, 0.005, 0.004, 0.006, 0.004, 0.007,
  0.003, 0.002, 0.002, 0.003, 0.006, 0.004, 0.002, 0.004, 0.002, 0.002,
  0.002, 0.002, 0.001, 0.001, 0.001, 0.001, 0.001, 0.002, 0.002, 0.001
];
const P_TA_ERR_SS18 = [
  0, 0, 0, 0, 0, 0, 0, 0, 0, 0,
  0.006, 0.009, 0.011, 0.013, 0.014, 0.015, 0.015, 0.014, 0.012, 0.011,
  0.009, 0.009, 0.008, 0.007, 0.006, 0.005, 0.005, 0.005, 0.004, 0.004,
  0, 0, 0, 0, 0, 0, 0, 0, 0, 0,
  0, 0, 0, 0, 0, 0, 0, 0, 0, 0,
  0, 0, 0, 0, 0, 0, 0, 0, 0, 0
];
const CA_TP_SS18 = [
  null, null, null, null, null, null, null, 1, 0.95, 0.92,
  0.93, 0.95, 0.92, 0.9, 0.95, 0.93, 0.88, 0.95, 0.9, 0.93,
  0.85, 0.95, 1, 0.9, 1, 0.92, 1, 0.88, 1, 0.95,
  1, 1, 1, null, 1, null, 1, 1, 1, 1,
  1, null, 1, null, 0.6, null, null, 1, null, null,
  null, null, null, null, null, null, null, null, null, null
];
const CA_TP_ERR_SS18 = [
  0, 0, 0, 0, 0, 0, 0, 0, 0.04, 0.04,
  0.03, 0.03, 0.03, 0.04, 0.03, 0.04, 0.05, 0.04, 0.05, 0.05,
  0.07, 0.05, 0, 0.07, 0, 0.07, 0, 0.1, 0, 0.06,
  0, 0, 0, 0, 0, 0, 0, 0, 0, 0,
  0, 0, 0, 0, 0.3, 0, 0, 0, 0, 0,
  0, 0, 0, 0, 0, 0, 0, 0, 0, 0
];
const CA_TA_SS18 = [
  null, null, null, null, null, null, null, 0, 0, 0.4,
  0.75, 0.88, 0.92, 0.95, 0.97, 0.96, 0.98, 0.97, 0.98, 1,
  0.97, 0.98, 1, 1, 0.96, 1, 1, 1, 1, 1,
  1, 1, 1, 1, 1, 1, 1, 1, 1, 1,
  1, null, 1, 1, 1, 1, null, 1, 1, null,
  1, 1, null, null, null, null, null, 1, 1, null
];
const CA_TA_ERR_SS18 = [
  0, 0, 0, 0, 0, 0, 0, 0, 0, 0.2,
  0.1, 0.05, 0.04, 0.03, 0.02, 0.02, 0.015, 0.02, 0.015, 0,
  0.02, 0.02, 0, 0, 0.03, 0, 0, 0, 0, 0,
  0, 0, 0, 0, 0, 0, 0, 0, 0, 0,
  0, 0, 0, 0, 0, 0, 0, 0, 0, 0,
  0, 0, 0, 0, 0, 0, 0, 0, 0, 0
];

// rows: h, S, P, ca ; columns: SS3..SS18 ; each [TP, TP err, TA, TA err]
const PANELS = [
  [[H_TP_SS3, H_TP_ERR_SS3, H_TA_SS3, H_TA_ERR_SS3], [H_TP_SS6, H_TP_ERR_SS6, H_TA_SS6, H_TA_ERR_SS6],
   [H_TP_SS12, H_TP_ERR_SS12, H_TA_SS12, H_TA_ERR_SS12], [H_TP_SS18, H_TP_ERR_SS18, H_TA_SS18, H_TA_ERR_SS18]],
  [[S_TP_SS3, S_TP_ERR_SS3, S_TA_SS3, S_TA_ERR_SS3], [S_TP_SS6, S_TP_ERR_SS6, S_TA_SS6, S_TA_ERR_SS6],
   [S_TP_SS12, S_TP_ERR_SS12, S_TA_SS12, S_TA_ERR_SS12], [S_TP_SS18, S_TP_ERR_SS18, S_TA_SS18, S_TA_ERR_SS18]],
  [[P_TP_SS3, P_TP_ERR_SS3, P_TA_SS3, P_TA_ERR_SS3], [P_TP_SS6, P_TP_ERR_SS6, P_TA_SS6, P_TA_ERR_SS6],
   [P_TP_SS12, P_TP_ERR_SS12, P_TA_SS12, P_TA_ERR_SS12], [P_TP_SS18, P_TP_ERR_SS18, P_TA_SS18, P_TA_ERR_SS18]],
  [[CA_TP_SS3, CA_TP_ERR_SS3, CA_TA_SS3, CA_TA_ERR_SS3], [CA_TP_SS6, CA_TP_ERR_SS6, CA_TA_SS6, CA_TA_ERR_SS6],
   [CA_TP_SS12, CA_TP_ERR_SS12, CA_TA_SS12, CA_TA_ERR_SS12], [CA_TP_SS18, CA_TP_ERR_SS18, CA_TA_SS18, CA_TA_ERR_SS18]]
];

// layout of the 4x4 grid (plot boxes, page pixels)
const COL_LEFT = [32, 203, 375, 547];
const BOX_W = 135;
const ROW_TOP = [11, 132, 261, 390];
const ROW_BOTTOM = [119, 248, 377, 477];
const Y_RANGE = [[-0.04, 1.04], [-0.04, 1.04], [-0.02, 0.52], [-0.04, 1.04]];
const X_MIN = -33, X_MAX = 2437;
const Y_AXIS_W = 31;

const GREEN = '#00e000';
const RED = '#ff0000';
const GREEN_ERR = 'rgba(0, 220, 0, 0.5)';
const RED_ERR = 'rgba(255, 0, 0, 0.45)';
const FONT = '"Liberation Sans", Arial, sans-serif';

function toPoints(values) {
  return TIME.map((t, i) => ({ x: t, y: values[i] }));
}

function series(values, errs, color, errColor) {
  return {
    data: toPoints(values),
    errs: errs,
    errColor: errColor,
    borderColor: color,
    backgroundColor: color,
    borderWidth: 1.5,
    pointRadius: 1.8,
    pointBorderWidth: 0,
    pointBackgroundColor: color,
    spanGaps: false,
    tension: 0
  };
}

function dotted(ctx, color, width, dash) {
  ctx.strokeStyle = color;
  ctx.lineWidth = width;
  ctx.setLineDash(dash);
}

function vLine(ctx, px, a) {
  ctx.beginPath(); ctx.moveTo(px, a.top); ctx.lineTo(px, a.bottom); ctx.stroke();
}
function hLine(ctx, py, a) {
  ctx.beginPath(); ctx.moveTo(a.left, py); ctx.lineTo(a.right, py); ctx.stroke();
}

function panelPlugin(r, c) {
  return {
    id: 'panel',
    beforeDatasetsDraw(chart) {
      const { ctx, chartArea: a, scales: { x, y } } = chart;
      ctx.save();
      // R grid(5, 4): light dotted lines splitting the plot region
      dotted(ctx, '#c8c8c8', 1, [1, 2]);
      for (let k = 1; k < 5; k++) vLine(ctx, Math.round(a.left + k * a.width / 5) + 0.5, a);
      for (let k = 1; k < 4; k++) hLine(ctx, Math.round(a.top + k * a.height / 4) + 0.5, a);
      ctx.setLineDash([]);
      // error bars
      chart.data.datasets.forEach(ds => {
        ctx.strokeStyle = ds.errColor;
        ctx.lineWidth = 1;
        ds.data.forEach((pt, i) => {
          const e = ds.errs[i];
          if (pt.y == null || !e) return;
          const px = x.getPixelForValue(pt.x);
          const lo = y.getPixelForValue(Math.max(0, pt.y - e));
          const hi = y.getPixelForValue(Math.min(1, pt.y + e));
          ctx.beginPath();
          ctx.moveTo(px, lo); ctx.lineTo(px, hi);
          ctx.moveTo(px - 3, lo); ctx.lineTo(px + 3, lo);
          ctx.moveTo(px - 3, hi); ctx.lineTo(px + 3, hi);
          ctx.stroke();
        });
      });
      ctx.restore();
    },
    afterDatasetsDraw(chart) {
      const { ctx, chartArea: a, scales: { x, y } } = chart;
      ctx.save();
      if (r === 0 || r === 2) {
        dotted(ctx, GREEN, 1.5, [2, 2]);
        vLine(ctx, x.getPixelForValue(DOT_TP[c]), a);
        dotted(ctx, RED, 1.5, [2, 2]);
        vLine(ctx, x.getPixelForValue(DOT_TA[c]), a);
      } else if (r === 1) {
        dotted(ctx, GREEN, 1, []);
        vLine(ctx, x.getPixelForValue(SOLID_TP[c]), a);
        dotted(ctx, RED, 1, []);
        vLine(ctx, x.getPixelForValue(SOLID_TA[c]), a);
      } else {
        dotted(ctx, GREEN, 1.3, [2, 2]);
        hLine(ctx, y.getPixelForValue(CA_REF_TP[c]), a);
        dotted(ctx, RED, 1.3, [2, 2]);
        hLine(ctx, y.getPixelForValue(CA_REF_TA[c]), a);
      }
      ctx.restore();
    },
    afterDraw(chart) {
      const { ctx, chartArea: a, scales: { y } } = chart;
      ctx.save();
      ctx.setLineDash([]);
      ctx.strokeStyle = '#555';
      ctx.lineWidth = 1.2;
      ctx.strokeRect(a.left, a.top, a.width, a.height);

      ctx.fillStyle = '#222';
      ctx.textAlign = 'center';
      ctx.textBaseline = 'middle';
      ctx.font = '7px ' + FONT;
      // rotated y tick labels, like R's las = 0
      Y_TICKS[r].forEach((v, k) => {
        ctx.save();
        ctx.translate(a.left - 12, y.getPixelForValue(v));
        ctx.rotate(-Math.PI / 2);
        ctx.fillText(Y_TICK_TEXT[r][k], 0, 0);
        ctx.restore();
      });
      if (c === 0) {
        ctx.save();
        ctx.translate(a.left - 26, (a.top + a.bottom) / 2);
        ctx.rotate(-Math.PI / 2);
        ctx.fillText(ROW_LABELS[r], 0, 0);
        ctx.restore();
      }
      if (r === 0) {
        ctx.font = 'bold 9px ' + FONT;
        ctx.fillText(SET_SIZES[c], (a.left + a.right) / 2, a.top - 4.5);
      }
      if (r === 3) {
        ctx.font = '7px ' + FONT;
        ctx.fillText('time bin', (a.left + a.right) / 2, a.bottom + 27);
      }
      if (r === 1 && c === 0) {
        const lx = a.left + 35, ly = a.top + 4;
        ctx.fillStyle = '#fff';
        ctx.fillRect(lx, ly, 88, 27);
        ctx.strokeStyle = '#333';
        ctx.lineWidth = 1;
        ctx.strokeRect(lx, ly, 88, 27);
        ctx.lineWidth = 2.5;
        ctx.strokeStyle = GREEN;
        ctx.beginPath(); ctx.moveTo(lx + 5, ly + 9.5); ctx.lineTo(lx + 21.5, ly + 9.5); ctx.stroke();
        ctx.strokeStyle = RED;
        ctx.beginPath(); ctx.moveTo(lx + 5, ly + 17.5); ctx.lineTo(lx + 21.5, ly + 17.5); ctx.stroke();
        ctx.fillStyle = '#222';
        ctx.textAlign = 'left';
        ctx.font = '5.5px ' + FONT;
        ctx.fillText('Target Present', lx + 30, ly + 9.5);
        ctx.fillText('Target Absent', lx + 30, ly + 17.5);
      }
      ctx.restore();
    }
  };
}

function makePanel(r, c) {
  const padTop = r === 0 ? ROW_TOP[0] : 4;
  const bottomH = r === 3 ? 509 - ROW_BOTTOM[3] : 8;
  const boxH = ROW_BOTTOM[r] - ROW_TOP[r];
  const canvas = document.createElement('canvas');
  canvas.width = Y_AXIS_W + BOX_W + 5;
  canvas.height = padTop + boxH + bottomH;
  canvas.style.left = (COL_LEFT[c] - Y_AXIS_W) + 'px';
  canvas.style.top = (ROW_TOP[r] - padTop) + 'px';
  document.getElementById('wrap').appendChild(canvas);

  const [tp, tpErr, ta, taErr] = PANELS[r][c];
  new Chart(canvas, {
    type: 'line',
    data: {
      datasets: [
        series(ta, taErr, RED, RED_ERR),
        series(tp, tpErr, GREEN, GREEN_ERR)
      ]
    },
    options: {
      responsive: false,
      animation: false,
      layout: { autoPadding: false, padding: { top: padTop, right: 5, left: 0, bottom: 0 } },
      plugins: { legend: { display: false }, tooltip: { enabled: false } },
      scales: {
        x: {
          type: 'linear',
          min: X_MIN,
          max: X_MAX,
          afterBuildTicks: axis => { axis.ticks = TIME.map(v => ({ value: v })); },
          afterFit: axis => { axis.height = bottomH; },
          border: { display: false },
          grid: { drawOnChartArea: false, drawTicks: true, tickLength: 3.5, tickColor: '#555', tickWidth: 0.8 },
          ticks: {
            display: r === 3,
            autoSkip: false,
            maxRotation: 0,
            minRotation: 0,
            padding: 4,
            color: '#222',
            font: { family: FONT, size: 7 },
            callback: v => (X_LABELS.includes(v) ? String(v) : '')
          }
        },
        y: {
          type: 'linear',
          min: Y_RANGE[r][0],
          max: Y_RANGE[r][1],
          afterBuildTicks: axis => { axis.ticks = Y_TICKS[r].map(v => ({ value: v })); },
          afterFit: axis => { axis.width = Y_AXIS_W; },
          border: { display: false },
          grid: { drawOnChartArea: false, drawTicks: true, tickLength: 4, tickColor: '#555', tickWidth: 1 },
          ticks: { display: false }
        }
      }
    },
    plugins: [panelPlugin(r, c)]
  });
}

for (let r = 0; r < 4; r++) {
  for (let c = 0; c < 4; c++) makePanel(r, c);
}
</script>
</body>
</html>
